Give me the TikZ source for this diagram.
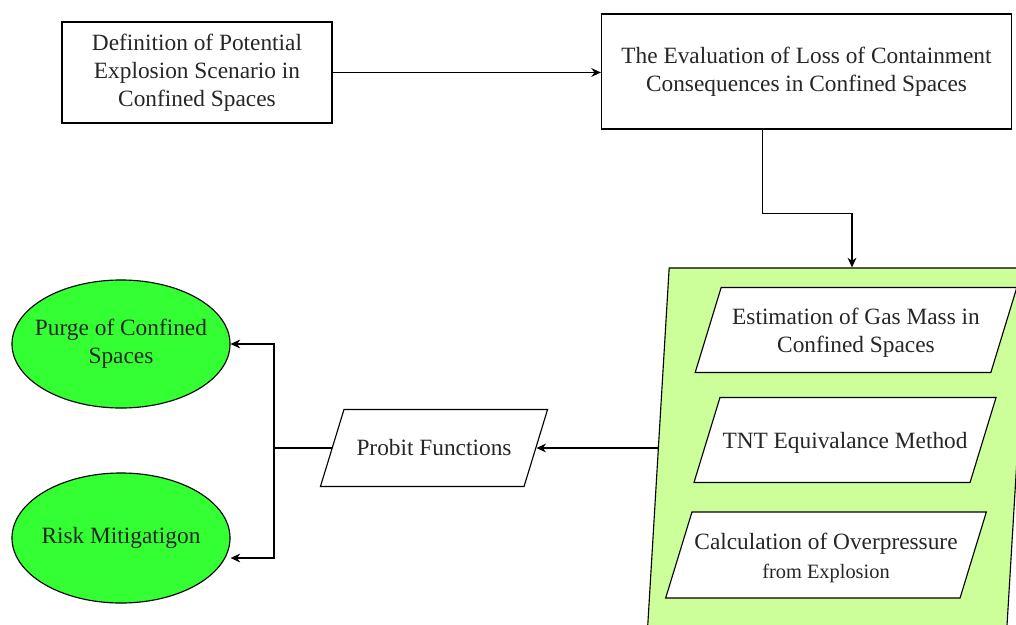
\documentclass[tikz,border=0pt]{standalone}
\usepackage{fontspec}
\setmainfont{Liberation Serif}
\usetikzlibrary{shapes.geometric,arrows.meta}
\definecolor{blobgreen}{HTML}{33FF33}
\definecolor{panelgreen}{HTML}{CCFF99}

\begin{document}
\begin{tikzpicture}[x=0.025cm,y=-0.025cm,line width=.8pt,
  every node/.style={font=\fontsize{16.6}{20}\selectfont,align=center,text=black!85},
  box/.style={draw,fill=white,inner sep=0pt},
  slant/.style={draw,fill=white,trapezium,trapezium left angle=73,trapezium right angle=107},
  caption/.style={yshift=-.075cm},
  blob/.style={draw,ellipse,fill=blobgreen,inner xsep=-.25cm,inner ysep=0pt,minimum width=5.45cm},
  arr/.style={-{Stealth[length=2.4mm,width=2.2mm]}}]
\useasboundingbox (0,0) rectangle (1016,624);
\clip (0,0) rectangle (1016,624);

\node[box,minimum width=6.75cm,minimum height=2.525cm] (def) at (197,72.5)
     {Definition of Potential\\Explosion Scenario in\\Confined Spaces};
\node[box,minimum width=10.25cm,minimum height=2.875cm] (ev) at (806.5,71.5)
     {The Evaluation of Loss of Containment\\Consequences in Confined Spaces};

\node[draw,fill=panelgreen,trapezium,trapezium left angle=86.57,trapezium right angle=93.43,
      inner xsep=4.22cm,inner ysep=4.5cm] (grp) at (838,448) {};
\node[slant,inner xsep=3.37cm,inner ysep=1.0625cm] (gas) at (856,330) {};
\node[slant,inner xsep=3.125cm,inner ysep=1.0625cm] (tnt) at (845,440) {};
\node[slant,inner xsep=3.35cm,inner ysep=1.075cm] (ovp) at (826,555) {};
\node[caption] (gas-t) at (gas) {Estimation of Gas Mass in\\Confined Spaces};
\node[caption] (tnt-t) at (tnt) {TNT Equivalance Method};
\node[caption] (ovp-t) at (ovp) {Calculation of Overpressure\\{\fontsize{14.5}{17}\selectfont from Explosion}};

\node[slant,inner xsep=2.25cm,inner ysep=.9625cm] (pf) at (434,448) {};
\node (pf-t) at (pf) {Probit Functions};
\node[blob,minimum height=3.2cm] (purge) at (121,344) {Purge of Confined\\Spaces};
\node[blob,minimum height=3.25cm] (risk) at (121,538) {Risk Mitigatigon};
\coordinate (split) at (274,448);

\draw[arr] (def.east) -- (def.east -| ev.west);
\draw[arr] ([xshift=-1.09cm]ev.south) -- ++(0,84) -| ([xshift=.35cm]grp.north);
\draw[arr] (grp.west) -- (pf.east);
\draw (pf.west) -- (split);
\draw[arr] (split) |- (purge.east);
\draw[arr] (split) |- ([yshift=-.5cm]risk.east);
\end{tikzpicture}
\end{document}
